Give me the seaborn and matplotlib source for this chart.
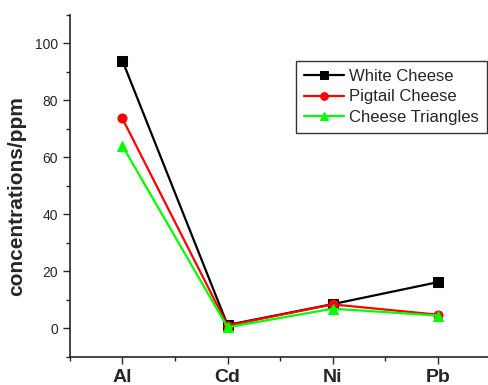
import pandas as pd
import matplotlib
matplotlib.use("Agg")
import matplotlib.pyplot as plt
import seaborn as sns
from matplotlib.ticker import MultipleLocator

# values
metals = ["Al", "Cd", "Ni", "Pb"]
white_cheese = [93.9, 1.2, 8.5, 16.2]
pigtail_cheese = [73.6, 1.0, 8.4, 4.8]
cheese_triangles = [64.0, 0.4, 6.9, 4.5]

series = ["White Cheese", "Pigtail Cheese", "Cheese Triangles"]
colors = ["black", "red", "#00ff00"]
markers = ["s", "o", "^"]

data = pd.DataFrame({
    "metal": metals * 3,
    "x": list(range(len(metals))) * 3,
    "value": white_cheese + pigtail_cheese + cheese_triangles,
    "sample": [s for s in series for _ in metals],
})

sns.set_style("ticks")
plt.rcParams["font.family"] = ["Liberation Sans", "DejaVu Sans"]

fig = plt.figure(figsize=(4.88, 3.85), dpi=100)
ax = fig.add_axes([0.143, 0.073, 0.862, 0.889])

for name, c, m in zip(series, colors, markers):
    sub = data[data["sample"] == name]
    sns.lineplot(data=sub, x="x", y="value", color=c, marker=m,
                 markersize=6.5, markeredgecolor=c, linewidth=1.6,
                 label=name, ax=ax)

ax.set_xlim(-0.5, 3.5)
ax.set_ylim(-10, 110)
ax.set_xticks(range(len(metals)))
ax.set_xticklabels(metals, fontweight="bold", fontsize=14)
ax.xaxis.set_minor_locator(MultipleLocator(0.5))
ax.yaxis.set_minor_locator(MultipleLocator(10))
ax.set_yticks([0, 20, 40, 60, 80, 100])
ax.tick_params(axis="y", labelsize=10)
ax.tick_params(axis="x", pad=4)
ax.tick_params(which="major", length=5, width=1, direction="out")
ax.tick_params(which="minor", length=3, width=1, direction="out")
ax.set_xlabel("")
ax.set_ylabel("concentrations/ppm", fontweight="bold", fontsize=15)
ax.yaxis.set_label_coords(-0.103, 0.47)
for s in ["top", "right"]:
    ax.spines[s].set_visible(False)
for s in ["left", "bottom"]:
    ax.spines[s].set_linewidth(1.2)

leg = ax.legend(loc="upper left", bbox_to_anchor=(0.518, 0.89), fontsize=12,
                frameon=True, fancybox=False, edgecolor="black",
                handlelength=2.4, borderpad=0.5, labelspacing=0.33,
                handletextpad=0.3, markerscale=0.85)
leg.get_frame().set_linewidth(1)

fig.savefig("out.png", dpi=100)
